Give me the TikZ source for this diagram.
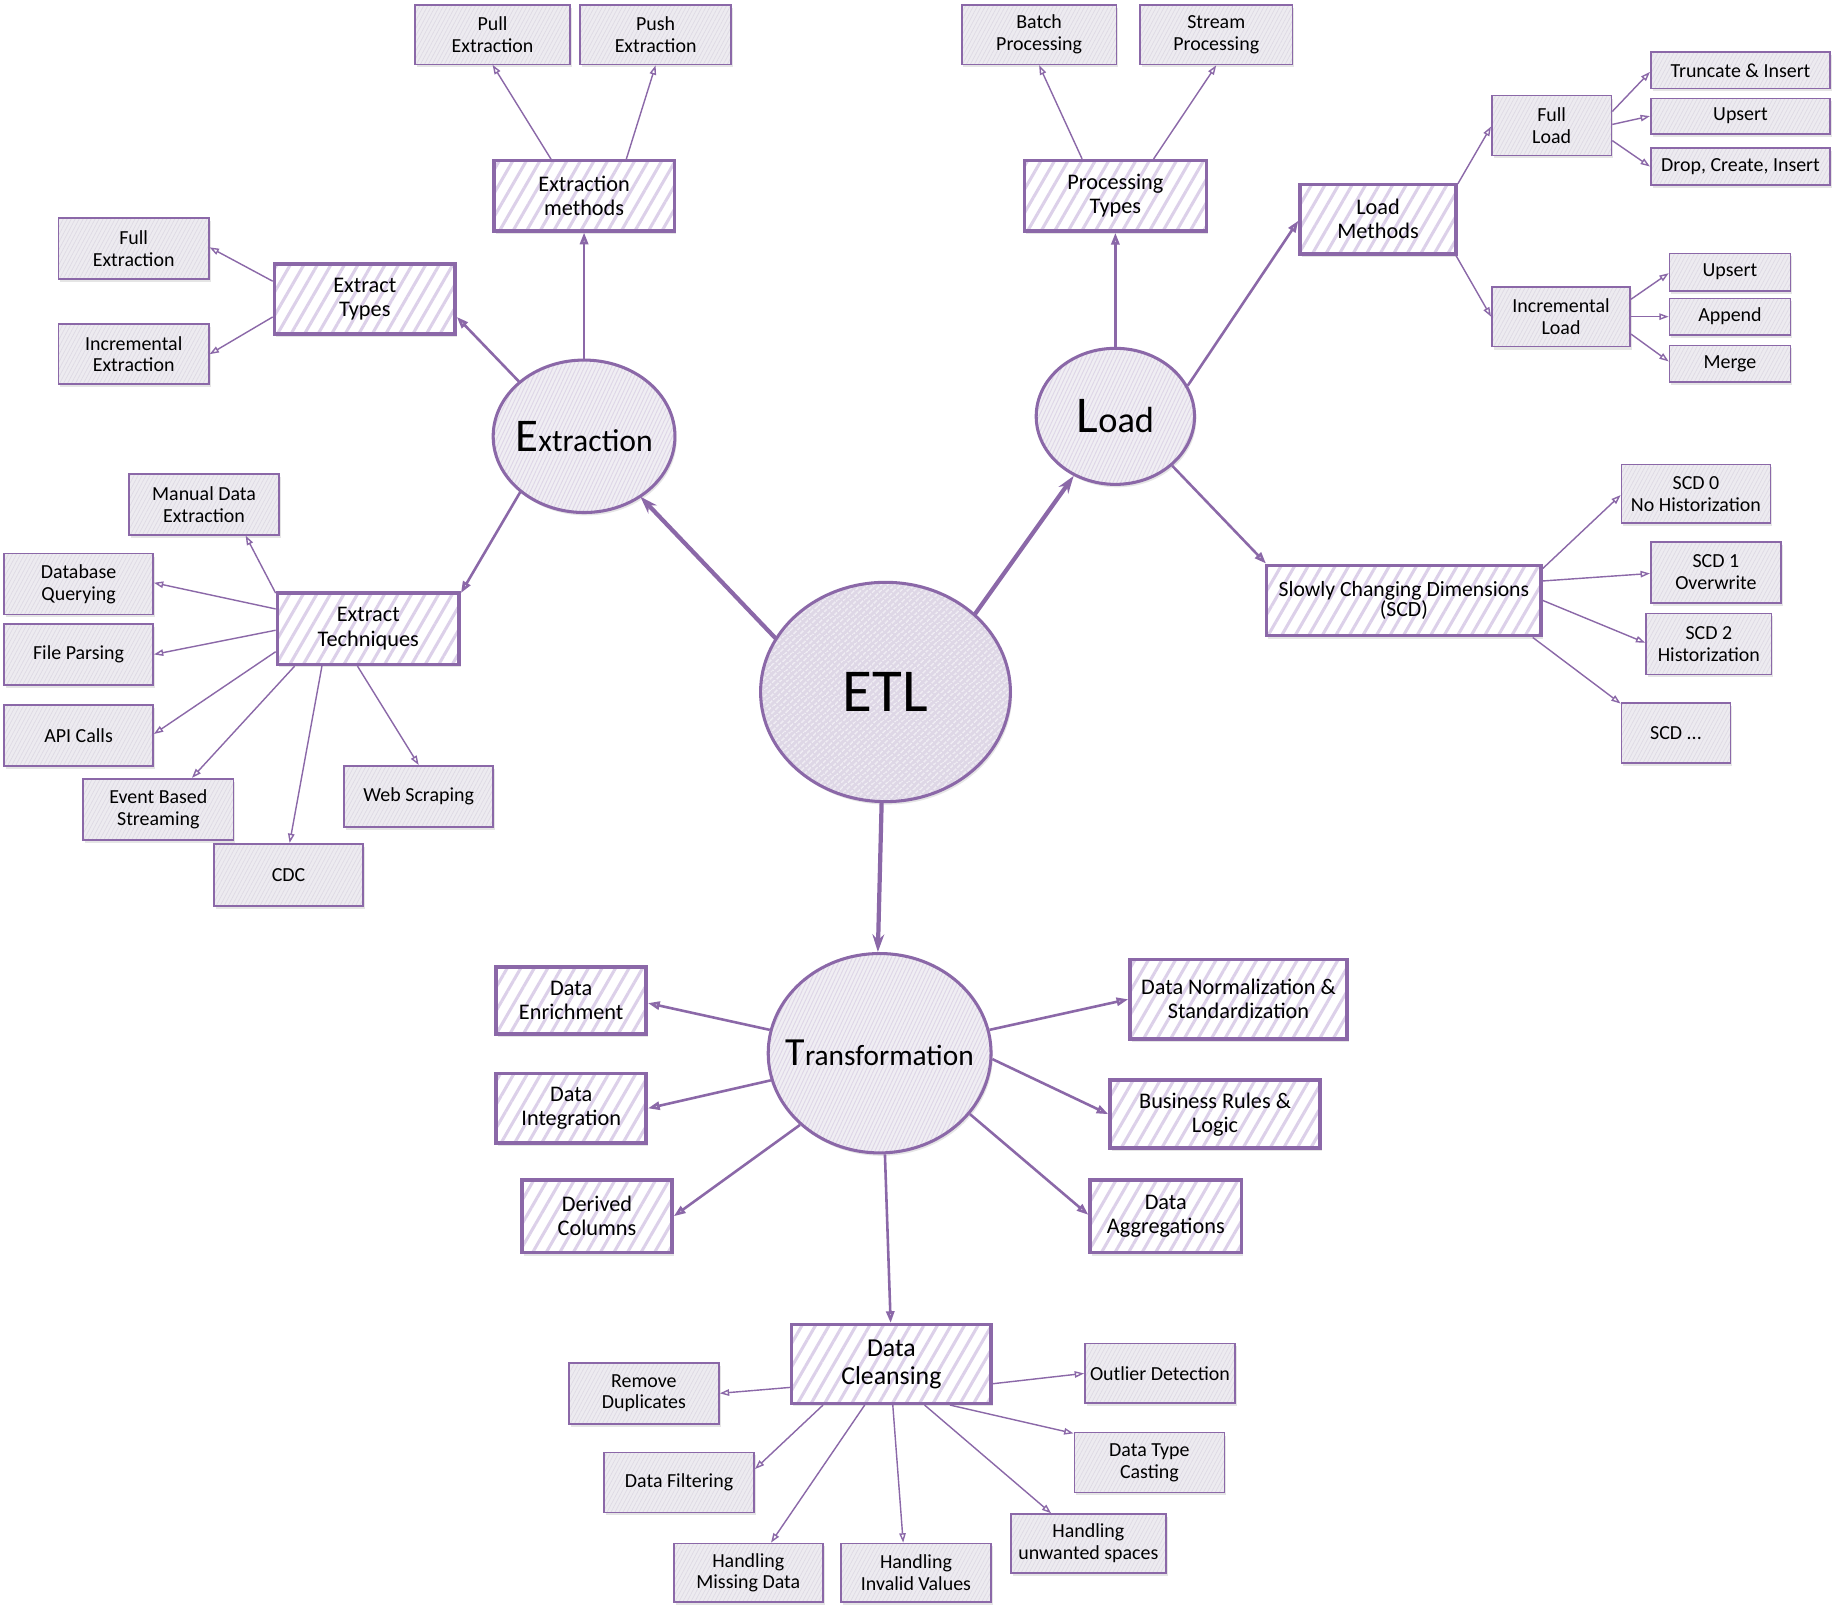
\documentclass[tikz,border=0pt]{standalone}
\usepackage{fontspec}
\setmainfont{Carlito}
\usetikzlibrary{shapes.geometric, arrows.meta, patterns.meta, shadows}
\definecolor{pp}{RGB}{139,104,168}
\definecolor{lav}{RGB}{220,208,233}
\definecolor{leaffill}{RGB}{237,235,240}
\definecolor{leafhatch}{RGB}{222,218,228}
\definecolor{circfill}{RGB}{240,238,243}
\definecolor{circhatch}{RGB}{222,214,231}
\definecolor{etlfill}{RGB}{222,215,230}
\definecolor{etlhatch}{RGB}{242,240,245}
\begin{document}
\begin{tikzpicture}[x=1pt,y=1pt,
  shad/.style={drop shadow={shadow xshift=1.5pt,shadow yshift=-2.5pt,opacity=0.2}},
  sz/.style 2 args={minimum width=#1pt, minimum height=#2pt},
  hub/.style={ellipse, draw=pp, line width=2.6pt, inner sep=0pt, shad, preaction={fill=circfill}, pattern={Lines[angle=65,distance=3pt,line width=0.8pt]}, pattern color=circhatch},
  etlhub/.style={ellipse, draw=pp, line width=2.6pt, inner sep=0pt, shad, preaction={fill=etlfill}, pattern={Lines[angle=42,distance=4pt,line width=1.2pt]}, pattern color=etlhatch},
  mid/.style={rectangle, draw=pp, line width=3pt, inner sep=0pt, align=center, shad, preaction={fill=white}, pattern={Lines[angle=60,distance=10pt,line width=2.6pt]}, pattern color=lav, font=\fontsize{19}{20.5}\selectfont},
  leaf/.style={rectangle, draw=pp, line width=1.4pt, inner sep=0pt, align=center, shad, preaction={fill=leaffill}, pattern={Lines[angle=62,distance=3pt,line width=0.6pt]}, pattern color=leafhatch, font=\fontsize{17}{18.5}\selectfont},
  big/.style={-{Stealth[length=15pt,width=10pt]}, draw=pp, line width=3.6pt},
  med/.style={-{Triangle[open,length=10pt,width=7pt]}, draw=pp, line width=2.2pt},
  thn/.style={-{Triangle[open,length=8pt,width=5.5pt]}, draw=pp, line width=1.2pt},
]
\fill[white] (0,0) rectangle (1568,-1374.5);
\useasboundingbox (0,0) rectangle (1568,-1374.5);

% hubs
\node[etlhub, sz={213}{187}] (etl) at (755,-590) {\fontsize{52}{54}\selectfont ETL};
\node[hub, sz={155}{130}, inner xsep=-6pt] (ext) at (498,-372) {{\fontsize{40}{40}\selectfont E}{\fontsize{27}{30}\selectfont xtraction}};
\node[hub, sz={135}{116}] (load) at (951,-355) {{\fontsize{44}{44}\selectfont L}{\fontsize{31}{32}\selectfont oad}};
\node[hub, sz={190}{170}, inner xsep=-15pt] (tr) at (750,-898) {{\fontsize{34}{36}\selectfont T}{\fontsize{25}{28}\selectfont ransformation}};

% extraction side
\node[mid, sz={154}{60}] (em) at (498,-167) {Extraction\\methods};
\node[leaf, sz={132}{51}] (pull) at (420,-29.5) {Pull\\Extraction};
\node[leaf, sz={129}{51}] (push) at (559,-29.5) {Push\\Extraction};
\node[mid, sz={154}{60}] (et) at (311,-255) {Extract\\Types};
\node[leaf, sz={128}{52}] (fullx) at (114,-212) {Full\\Extraction};
\node[leaf, sz={128}{51}] (incx) at (114,-302) {Incremental\\Extraction};
\node[mid, sz={155}{61}] (tech) at (314,-536) {Extract\\Techniques};
\node[leaf, sz={128}{52}] (manual) at (174,-430) {Manual Data\\Extraction};
\node[leaf, sz={127}{52}] (dbq) at (67,-498) {Database\\Querying};
\node[leaf, sz={127}{52}] (fparse) at (67,-558) {File Parsing};
\node[leaf, sz={127}{52}] (api) at (67,-627) {API Calls};
\node[leaf, sz={128}{52}] (event) at (135,-690) {Event Based\\Streaming};
\node[leaf, sz={127}{53}] (cdc) at (246,-746) {CDC};
\node[leaf, sz={127}{52}] (web) at (357,-679) {Web Scraping};

% load side
\node[mid, sz={155}{60}] (pt) at (951,-167) {Processing\\Types};
\node[leaf, sz={132}{51}] (batch) at (886,-29.5) {Batch\\Processing};
\node[leaf, sz={130}{51}] (stream) at (1037,-29.5) {Stream\\Processing};
\node[mid, sz={133}{59}] (lm) at (1175,-187) {Load\\Methods};
\node[leaf, sz={102}{51}] (fl) at (1323,-107) {Full\\Load};
\node[leaf, sz={153}{31}] (trunc) at (1484,-60) {Truncate \& Insert};
\node[leaf, sz={153}{30}] (ups1) at (1484,-99) {Upsert};
\node[leaf, sz={153}{32}] (drop) at (1484,-142) {Drop, Create, Insert};
\node[leaf, sz={118}{51}] (il) at (1331,-270) {Incremental\\Load};
\node[leaf, sz={103}{32}] (ups2) at (1475,-232) {Upsert};
\node[leaf, sz={103}{31}] (app) at (1475,-270) {Append};
\node[leaf, sz={103}{31}] (merge) at (1475,-310) {Merge};
\node[mid, sz={234}{60}, font=\fontsize{18.5}{17}\selectfont] (scd) at (1197,-512) {Slowly Changing Dimensions\\(SCD)};
\node[leaf, sz={127}{50}] (scd0) at (1446,-421) {SCD 0\\No Historization};
\node[leaf, sz={111}{52}] (scd1) at (1463,-488) {SCD 1\\Overwrite};
\node[leaf, sz={107}{52}] (scd2) at (1457,-549) {SCD 2\\Historization};
\node[leaf, sz={93}{51}] (scdx) at (1429,-625) {SCD ...};

% transformation side
\node[mid, sz={128}{57}] (enr) at (487,-853) {Data\\Enrichment};
\node[mid, sz={128}{59}] (integ) at (487,-945) {Data\\Integration};
\node[mid, sz={128}{62}] (derived) at (509,-1037) {Derived\\Columns};
\node[mid, sz={185}{68}] (norm) at (1056,-852) {Data Normalization \&\\Standardization};
\node[mid, sz={179}{58}] (rules) at (1036,-950) {Business Rules \&\\Logic};
\node[mid, sz={129}{62}] (agg) at (994,-1037) {Data\\Aggregations};
\node[mid, sz={170}{67}, font=\fontsize{22}{24}\selectfont] (cleanse) at (760,-1163) {Data\\Cleansing};
\node[leaf, sz={128}{52}] (dup) at (549,-1188) {Remove\\Duplicates};
\node[leaf, sz={128}{51}] (outlier) at (989,-1171) {Outlier Detection};
\node[leaf, sz={128}{51}] (cast) at (980,-1247) {Data Type\\Casting};
\node[leaf, sz={128}{51}] (filter) at (579,-1264) {Data Filtering};
\node[leaf, sz={127}{50}] (missing) at (638,-1341) {Handling\\Missing Data};
\node[leaf, sz={128}{50}] (invalid) at (781,-1341) {Handling\\Invalid Values};
\node[leaf, sz={132}{50}] (spaces) at (928,-1316) {Handling\\unwanted spaces};

% ETL -> hubs
\draw[big] (etl.154) -- (ext.313);
\draw[big] (etl.41) -- (load.235);
\draw[big] (etl.268) -- (tr.91);

% hubs -> level 2
\draw[med] (ext.90) -- (em.270);
\draw[med] (ext.140) -- (et.-11);
\draw[med] (ext.221) -- (tech.21);
\draw[med] (load.90) -- (pt.270);
\draw[med] (load.23) -- (lm.181);
\draw[med] (load.-41) -- (scd.165);
\draw[med] (tr.168) -- (enr.-2);
\draw[med] (tr.194) -- (integ.0);
\draw[med] (tr.222) -- (derived.0);
\draw[med] (tr.12) -- (norm.180);
\draw[med] (tr.-3) -- (rules.180);
\draw[med] (tr.-34) -- (agg.179);
\draw[med] (tr.-87) -- (cleanse.91);

% level 2 -> leaves
\draw[thn] (em.132) -- (pull.270);
\draw[thn] (em.41) -- (push.270);
\draw[thn] (et.169) -- (fullx.1);
\draw[thn] (et.191) -- (incx.0);
\draw[thn] (tech.159) -- (manual.-37);
\draw[thn] (tech.168) -- (dbq.1);
\draw[thn] (tech.181) -- (fparse.0);
\draw[thn] (tech.194) -- (api.1);
\draw[thn] (tech.207) -- (event.43);
\draw[thn] (tech.219) -- (cdc.88);
\draw[thn] (tech.254) -- (web.90);
\draw[thn] (pt.132) -- (batch.270);
\draw[thn] (pt.44) -- (stream.270);
\draw[thn] (lm.24) -- (fl.181);
\draw[thn] (lm.-25) -- (il.180);
\draw[thn] (fl.13) -- (trunc.181);
\draw[thn] (fl.1) -- (ups1.180);
\draw[thn] (fl.-14) -- (drop.180);
\draw[thn] (il.14) -- (ups2.181);
\draw[thn] (il.0) -- (app.180);
\draw[thn] (il.-14) -- (merge.178);
\draw[thn] (scd.13) -- (scd0.181);
\draw[thn] (scd.8) -- (scd1.181);
\draw[thn] (scd.0) -- (scd2.179);
\draw[thn] (scd.-16) -- (scdx.152);
\draw[thn] (cleanse.193) -- (dup.0);
\draw[thn] (cleanse.-11) -- (outlier.180);
\draw[thn] (cleanse.-35) -- (cast.159);
\draw[thn] (cleanse.211) -- (filter.10);
\draw[thn] (cleanse.237) -- (missing.53);
\draw[thn] (cleanse.-88) -- (invalid.113);
\draw[thn] (cleanse.-51) -- (spaces.141);
\end{tikzpicture}
\end{document}
